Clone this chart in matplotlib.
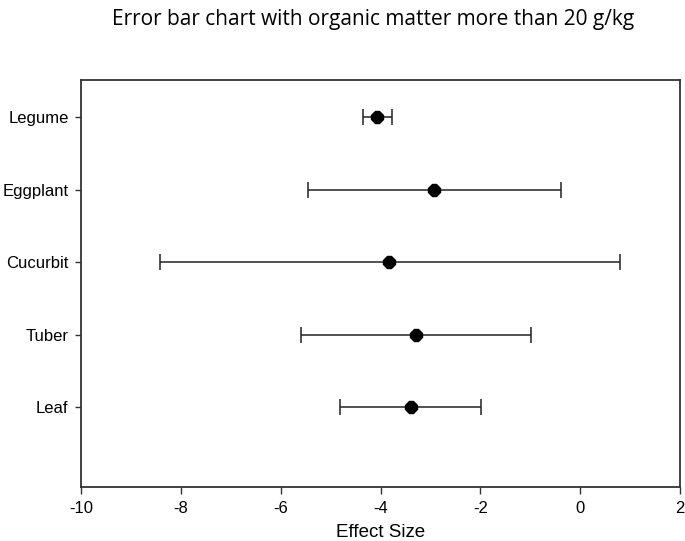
import matplotlib
matplotlib.use("Agg")
import matplotlib.pyplot as plt
import numpy as np

categories = ["Leaf", "Tuber", "Cucurbit", "Eggplant", "Legume"]
effect = [-3.39, -3.28, -3.83, -2.93, -4.08]
lower = [-4.82, -5.59, -8.41, -5.45, -4.36]
upper = [-1.98, -0.98, 0.80, -0.38, -3.77]
xticks = [-10, -8, -6, -4, -2, 0, 2]

lab_font = ['Liberation Sans', 'DejaVu Sans']

fig = plt.figure(figsize=(6.85, 5.41), dpi=100)
ax = fig.add_axes([81/685, 1 - 487/541, 599/685, 407/541])

y = np.arange(1, len(categories) + 1)
eff = np.array(effect)
xerr = np.vstack([eff - np.array(lower), np.array(upper) - eff])
ax.errorbar(eff, y, xerr=xerr, fmt='none', ecolor='#222222', elinewidth=1.1,
            capsize=5.5, capthick=1.1, zorder=2)
ax.plot(eff, y, linestyle='none', marker='8', markersize=9, color='black', zorder=3)

ax.set_xlim(-10, 2)
ax.set_ylim(-0.1, 5.51)
ax.set_xticks(xticks)
ax.set_xticklabels([str(t) for t in xticks], family=lab_font, fontsize=12)
ax.set_yticks(y)
ax.set_yticklabels(categories, family=lab_font, fontsize=12)
ax.tick_params(axis='x', direction='out', length=5, width=1, colors='#333333', labelcolor='black', pad=5)
ax.tick_params(axis='y', direction='out', length=4, width=1, colors='#333333', labelcolor='black', pad=5)
for s in ax.spines.values():
    s.set_linewidth(1.3)
    s.set_color('#333333')
ax.set_xlabel("Effect Size", family=lab_font, fontsize=13.5, labelpad=6)
fig.text(373/685, 1 - 19/541, "Error bar chart with organic matter more than 20 g/kg",
         ha='center', va='center', family=['Open Sans', 'DejaVu Sans'], fontsize=15)

fig.savefig("out.png", dpi=100)
